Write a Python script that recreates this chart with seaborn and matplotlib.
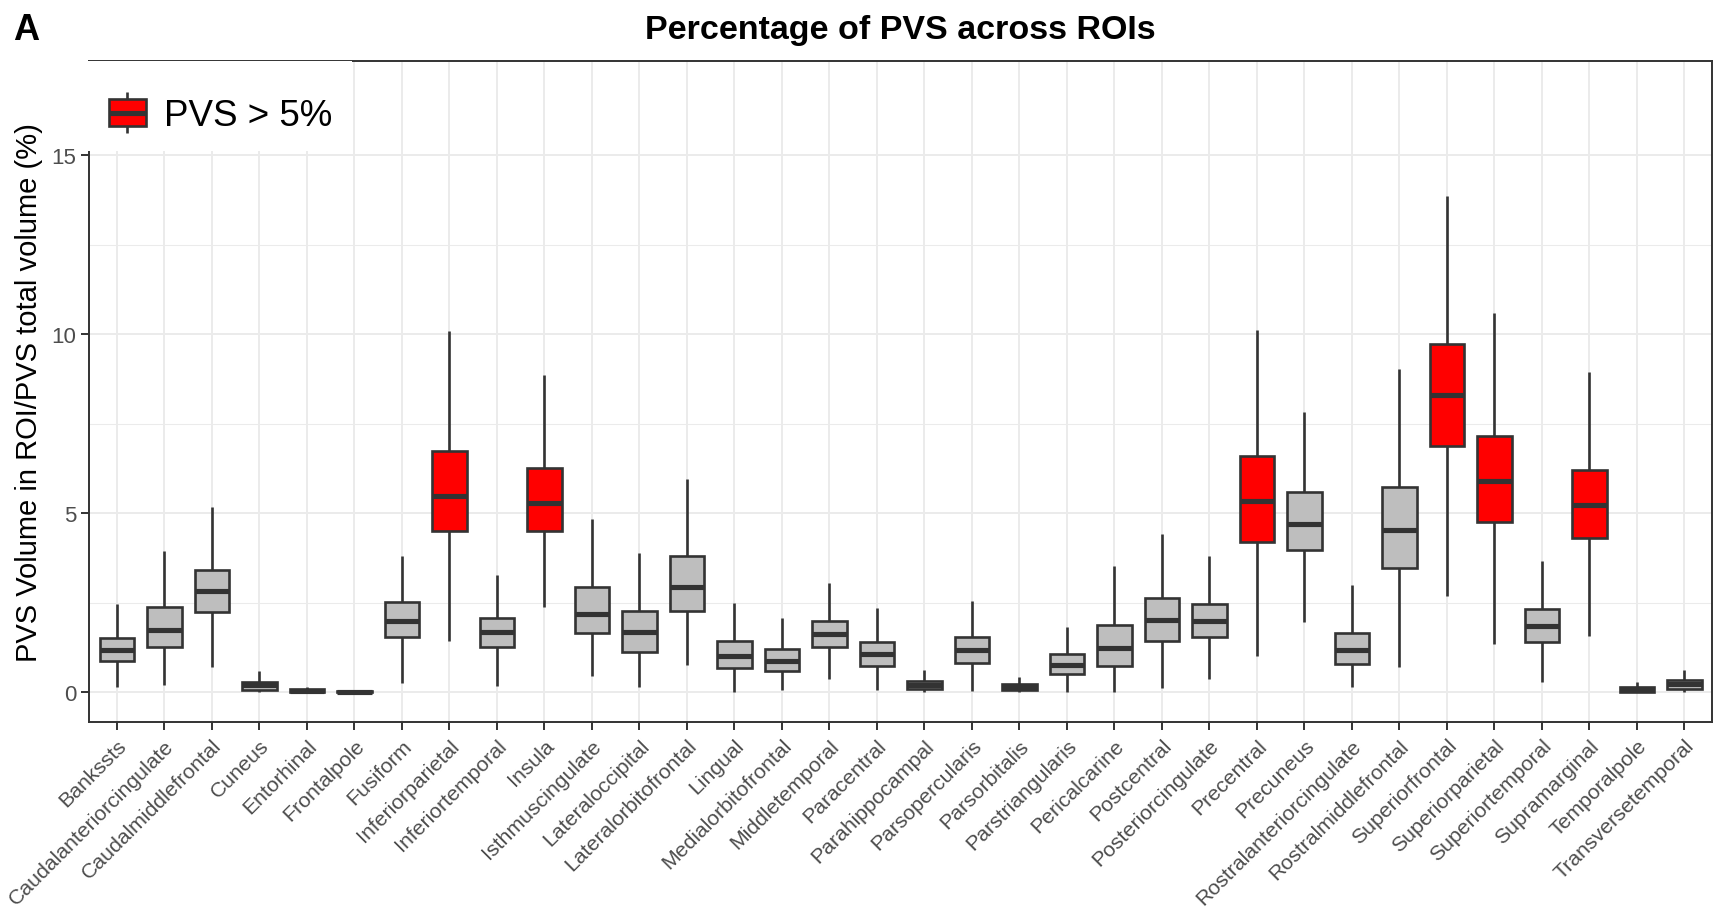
import numpy as np
import pandas as pd
import matplotlib
matplotlib.use("Agg")
import matplotlib.pyplot as plt
from matplotlib.patches import Rectangle
from matplotlib.lines import Line2D
from matplotlib.legend_handler import HandlerBase
from matplotlib.ticker import FixedLocator
import seaborn as sns

# Regions of interest (Desikan-Killiany cortical parcels)
rois = [
    "Bankssts", "Caudalanteriorcingulate", "Caudalmiddlefrontal", "Cuneus",
    "Entorhinal", "Frontalpole", "Fusiform", "Inferiorparietal",
    "Inferiortemporal", "Insula", "Isthmuscingulate", "Lateraloccipital",
    "Lateralorbitofrontal", "Lingual", "Medialorbitofrontal", "Middletemporal",
    "Paracentral", "Parahippocampal", "Parsopercularis", "Parsorbitalis",
    "Parstriangularis", "Pericalcarine", "Postcentral", "Posteriorcingulate",
    "Precentral", "Precuneus", "Rostralanteriorcingulate", "Rostralmiddlefrontal",
    "Superiorfrontal", "Superiorparietal", "Superiortemporal", "Supramarginal",
    "Temporalpole", "Transversetemporal",
]

# Five-number summaries of PVS volume share (%) per ROI
whisker_low = [0.14, 0.20, 0.70, 0.00, 0.00, 0.00, 0.26, 1.42, 0.19, 2.37,
               0.47, 0.14, 0.76, 0.00, 0.07, 0.37, 0.07, 0.00, 0.05, 0.00,
               0.00, 0.00, 0.12, 0.37, 1.02, 1.96, 0.15, 0.72, 2.69, 1.35,
               0.28, 1.57, 0.00, 0.00]
quart_1 = [0.87, 1.26, 2.23, 0.07, 0.01, 0.00, 1.55, 4.50, 1.27, 4.50,
           1.66, 1.13, 2.28, 0.69, 0.59, 1.26, 0.73, 0.09, 0.81, 0.07,
           0.51, 0.74, 1.43, 1.55, 4.20, 3.97, 0.80, 3.47, 6.88, 4.76,
           1.40, 4.31, 0.02, 0.08]
medians = [1.17, 1.74, 2.82, 0.20, 0.04, 0.01, 1.98, 5.49, 1.68, 5.28,
           2.19, 1.68, 2.94, 1.01, 0.87, 1.63, 1.06, 0.21, 1.17, 0.16,
           0.77, 1.24, 2.03, 1.98, 5.34, 4.69, 1.17, 4.54, 8.31, 5.91,
           1.84, 5.23, 0.08, 0.23]
quart_3 = [1.52, 2.39, 3.43, 0.29, 0.08, 0.03, 2.51, 6.73, 2.09, 6.26,
           2.94, 2.26, 3.80, 1.44, 1.20, 1.99, 1.40, 0.31, 1.54, 0.23,
           1.06, 1.87, 2.64, 2.47, 6.61, 5.59, 1.67, 5.73, 9.72, 7.15,
           2.34, 6.21, 0.14, 0.34]
whisker_high = [2.47, 3.96, 5.17, 0.59, 0.16, 0.05, 3.80, 10.10, 3.28, 8.86,
                4.84, 3.89, 5.96, 2.50, 2.08, 3.04, 2.36, 0.61, 2.56, 0.44,
                1.82, 3.54, 4.42, 3.80, 10.13, 7.84, 2.99, 9.04, 13.87, 10.60,
                3.66, 8.96, 0.28, 0.62]

y_ticks = [0, 5, 10, 15]
threshold = 5.0
high_label = "PVS > 5%"
low_label = "PVS <= 5%"

# ---- styling constants -------------------------------------------------
RED = "#FF0000"
GREY = "#BEBEBE"
EDGE = "#333333"
TEXT_GREY = "#4D4D4D"
GRID = "#EBEBEB"
BOX_LW = 1.9
MED_LW = 3.7

plt.rcParams["font.family"] = ["Liberation Sans", "DejaVu Sans"]

# long table: each ROI contributes its five summary values, so the box
# quartiles and whisker extremes reproduce the summary exactly
stats = pd.DataFrame({
    "roi": rois,
    "low": whisker_low,
    "q1": quart_1,
    "med": medians,
    "q3": quart_3,
    "high": whisker_high,
})
stats["group"] = np.where(stats["med"] > threshold, high_label, low_label)
long = stats.melt(id_vars=["roi", "group"],
                  value_vars=["low", "q1", "med", "q3", "high"],
                  value_name="pvs")

W, H, DPI = 1714, 912, 100
fig = plt.figure(figsize=(W / DPI, H / DPI), dpi=DPI)
ax_left, ax_right, ax_top, ax_bottom = 89.3, 1712.0, 61.7, 722.7
ax = fig.add_axes([ax_left / W, 1 - ax_bottom / H,
                   (ax_right - ax_left) / W, (ax_bottom - ax_top) / H])
ax.set_facecolor("white")
ax.set_axisbelow(True)

sns.boxplot(
    data=long, x="roi", y="pvs", hue="group", order=rois,
    hue_order=[high_label, low_label],
    palette={high_label: RED, low_label: GREY},
    saturation=1, dodge=False, width=0.73, whis=(0, 100),
    showcaps=False, linecolor=EDGE, linewidth=BOX_LW,
    medianprops={"linewidth": MED_LW, "solid_capstyle": "butt"},
    whiskerprops={"solid_capstyle": "butt"},
    legend=False, ax=ax,
)

# axes limits and ticks
ax.set_xlim(-0.58, len(rois) - 1 + 0.58)
ax.set_ylim(-0.82, 17.64)
ax.set_xticks(range(len(rois)))
ax.set_xticklabels(rois, rotation=45, ha="right", va="top",
                   rotation_mode="anchor", fontsize=15.3, color=TEXT_GREY)
ax.set_yticks(y_ticks)
ax.set_yticklabels([str(t) for t in y_ticks], fontsize=16, color=TEXT_GREY)
ax.yaxis.set_minor_locator(FixedLocator([2.5, 7.5, 12.5]))
ax.tick_params(axis="both", which="major", length=5.5, width=1.4,
               color=EDGE)
ax.tick_params(axis="y", which="major", pad=4)
ax.tick_params(axis="x", which="major", pad=4.5)
ax.tick_params(which="minor", length=0)
ax.set_xlabel("")

ax.grid(True, which="major", color=GRID, linewidth=1.4)
ax.grid(True, which="minor", axis="y", color=GRID, linewidth=0.75)

for side in ["left", "bottom", "top", "right"]:
    ax.spines[side].set_visible(True)
    ax.spines[side].set_color(EDGE)
    ax.spines[side].set_linewidth(1.4)

ax.set_ylabel("PVS Volume in ROI/PVS total volume (%)", fontsize=21,
              color="black")
ax.yaxis.set_label_coords(-0.0285, 0.5)

# white legend background sitting over the top-left corner of the panel
ax.add_patch(Rectangle((86 / W, 1 - 152 / H), (351.7 - 86) / W,
                       (152 - ax_top) / H, transform=fig.transFigure,
                       facecolor="white", edgecolor="none", clip_on=False,
                       zorder=3))


class BoxKeyHandler(HandlerBase):
    """Legend key drawn as a small box-and-whisker glyph."""

    def create_artists(self, legend, orig_handle, xdescent, ydescent,
                       width, height, fontsize, trans):
        x0, y0 = -xdescent, -ydescent
        ext = 0.27 * height
        xm = x0 + width / 2
        whisk = Line2D([xm, xm], [y0 - ext, y0 + height + ext], color=EDGE,
                       lw=BOX_LW, solid_capstyle="butt", transform=trans)
        box = Rectangle((x0, y0), width, height, facecolor=RED,
                        edgecolor=EDGE, lw=BOX_LW, transform=trans)
        med = Line2D([x0, x0 + width], [y0 + height / 2] * 2, color=EDGE,
                     lw=MED_LW, solid_capstyle="butt", transform=trans)
        return [whisk, box, med]


key = Rectangle((0, 0), 1, 1)
leg = ax.legend(
    handles=[key], labels=[high_label],
    handler_map={Rectangle: BoxKeyHandler()},
    loc="center left", bbox_to_anchor=(109 / W, 1 - 117 / H),
    bbox_transform=fig.transFigure, frameon=False, fontsize=26.5,
    handlelength=1.0, handleheight=0.74, handletextpad=0.5,
    borderpad=0, borderaxespad=0,
)
leg.set_zorder(6)

# title and panel tag
fig.text(900.5 / W, 1 - 39.3 / H, "Percentage of PVS across ROIs",
         ha="center", va="baseline", fontsize=24.5, fontweight="bold")
fig.text(13 / W, 1 - 40 / H, "A", ha="left", va="baseline",
         fontsize=26, fontweight="bold")

fig.savefig("out.png", dpi=DPI)
